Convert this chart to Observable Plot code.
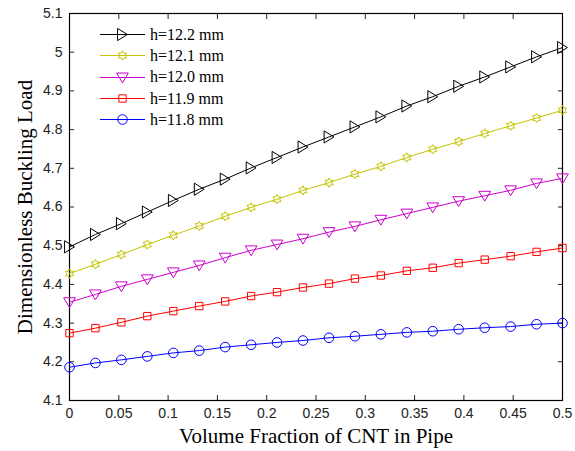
<!DOCTYPE html>
<html><head><meta charset="utf-8">
<script src="https://cdn.jsdelivr.net/npm/d3@7"></script>
<script src="https://cdn.jsdelivr.net/npm/@observablehq/plot@0.6"></script>
<style>
body{margin:0;background:#fff}
#wrap{position:relative;width:575px;height:451px}
#legend{position:absolute;left:100px;top:24px;font-family:"Liberation Serif","Times New Roman",serif;font-size:16px;color:#000}
.row{display:flex;align-items:center;height:21.3px;white-space:nowrap}
.row svg{display:block;overflow:visible}
.row span{margin-left:5px}
</style></head><body><div id="wrap"><div id="legend"></div></div>
<script>
// ---- data ----
const volumeFraction = [0, 0.0263, 0.0526, 0.0789, 0.1053, 0.1316, 0.1579, 0.1842, 0.2105, 0.2368,
  0.2632, 0.2895, 0.3158, 0.3421, 0.3684, 0.3947, 0.4211, 0.4474, 0.4737, 0.5];
const h122 = [4.497, 4.529, 4.557, 4.587, 4.617, 4.646, 4.672, 4.701, 4.728, 4.755,
  4.781, 4.807, 4.833, 4.861, 4.885, 4.912, 4.936, 4.962, 4.988, 5.012];
const h121 = [4.428, 4.452, 4.477, 4.503, 4.527, 4.551, 4.576, 4.599, 4.620, 4.643,
  4.663, 4.685, 4.705, 4.728, 4.749, 4.769, 4.790, 4.810, 4.830, 4.850];
const h120 = [4.354, 4.374, 4.395, 4.413, 4.431, 4.449, 4.469, 4.488, 4.503, 4.518,
  4.535, 4.550, 4.567, 4.583, 4.599, 4.615, 4.629, 4.643, 4.661, 4.674];
const h119 = [4.274, 4.287, 4.302, 4.318, 4.331, 4.344, 4.356, 4.370, 4.380, 4.392,
  4.402, 4.415, 4.423, 4.435, 4.443, 4.455, 4.464, 4.473, 4.484, 4.494];
const h118 = [4.186, 4.197, 4.205, 4.214, 4.223, 4.229, 4.238, 4.244, 4.250, 4.255,
  4.262, 4.266, 4.271, 4.276, 4.279, 4.284, 4.288, 4.291, 4.297, 4.300];
const seriesNames = ["h=12.2 mm", "h=12.1 mm", "h=12.0 mm", "h=11.9 mm", "h=11.8 mm"];
const xTicks = [0, 0.05, 0.1, 0.15, 0.2, 0.25, 0.3, 0.35, 0.4, 0.45, 0.5];
const xTickLabels = ["0", "0.05", "0.1", "0.15", "0.2", "0.25", "0.3", "0.35", "0.4", "0.45", "0.5"];
const yTicks = [4.1, 4.2, 4.3, 4.4, 4.5, 4.6, 4.7, 4.8, 4.9, 5, 5.1];
const yTickLabels = ["4.1", "4.2", "4.3", "4.4", "4.5", "4.6", "4.7", "4.8", "4.9", "5", "5.1"];
const xTitle = "Volume Fraction of CNT in Pipe";
const yTitle = "Dimensionless Buckling Load";

// ---- marker shapes (MATLAB-like) ----
const rad = size => Math.sqrt(size / Math.PI);
const triRight = {draw(c, s) { const R = rad(s); c.moveTo(R * 0.85, 0); c.lineTo(-R * 0.85, -R * 1.05); c.lineTo(-R * 0.85, R * 1.05); c.closePath(); }};
const triDown = {draw(c, s) { const R = rad(s); c.moveTo(-R * 1.05, -R * 0.8); c.lineTo(R * 1.05, -R * 0.8); c.lineTo(0, R * 0.95); c.closePath(); }};
const hexagram = {draw(c, s) {
  const R = rad(s), r = R / Math.sqrt(3);
  for (let k = 0; k < 12; k++) {
    const a = -Math.PI / 2 + k * Math.PI / 6, q = k % 2 ? r : R;
    k ? c.lineTo(q * Math.cos(a), q * Math.sin(a)) : c.moveTo(q * Math.cos(a), q * Math.sin(a));
  }
  c.closePath();
}};
const square = {draw(c, s) { const R = rad(s) * 0.78; c.rect(-R, -R, 2 * R, 2 * R); }};
const circle = {draw(c, s) { const R = rad(s); c.moveTo(R, 0); c.arc(0, 0, R, 0, 2 * Math.PI); }};

const seriesValues = [h122, h121, h120, h119, h118];
const colors = ["#000000", "#c4c400", "#cc00cc", "#ff0000", "#0000ff"];
const symbols = [triRight, hexagram, triDown, square, circle];
const radii = [5.8, 4.7, 5.6, 4.7, 4.8];

const series = seriesNames.map((name, k) => ({
  name, color: colors[k], symbol: symbols[k], r: radii[k],
  data: volumeFraction.map((x, i) => ({x, y: seriesValues[k][i]}))
}));

const marks = [
  Plot.axisX({anchor: "bottom", ticks: xTicks, tickFormat: d => xTickLabels[xTicks.indexOf(d)], tickSize: -5, tickPadding: 13, label: null}),
  Plot.axisX({anchor: "top", ticks: xTicks, tickFormat: () => "", tickSize: -5, label: null}),
  Plot.axisY({anchor: "left", ticks: yTicks, tickFormat: d => yTickLabels[yTicks.indexOf(d)], tickSize: -5, tickPadding: 12, label: null}),
  Plot.axisY({anchor: "right", ticks: yTicks, tickFormat: () => "", tickSize: -5, label: null}),
  Plot.frame({stroke: "#000", strokeWidth: 1.2})
];
for (const s of series) {
  marks.push(Plot.line(s.data, {x: "x", y: "y", stroke: s.color, strokeWidth: 1}));
  marks.push(Plot.dot(s.data, {x: "x", y: "y", stroke: s.color, fill: "none", strokeWidth: 1, symbol: s.symbol, r: s.r}));
}
marks.push(Plot.text([xTitle], {text: d => d, frameAnchor: "bottom", dy: 36, lineAnchor: "middle", textAnchor: "middle", fontFamily: "Liberation Serif, Times New Roman, serif", fontSize: 21, fill: "#000"}));
marks.push(Plot.text([yTitle], {text: d => d, frameAnchor: "left", rotate: -90, dx: -44, lineAnchor: "middle", textAnchor: "middle", fontFamily: "Liberation Serif, Times New Roman, serif", fontSize: 21, fill: "#000"}));

const chart = Plot.plot({
  width: 575, height: 451,
  marginLeft: 69, marginRight: 13, marginTop: 13, marginBottom: 51,
  x: {domain: [0, 0.5]},
  y: {domain: [4.1, 5.1]},
  style: {fontFamily: "Liberation Sans, Arial, sans-serif", fontSize: "14px", color: "#222", background: "#fff", overflow: "visible"},
  marks
});
document.getElementById("wrap").prepend(chart);

// ---- legend ----
const legend = d3.select("#legend");
for (const s of series) {
  const row = legend.append("div").attr("class", "row");
  const svg = row.append("svg").attr("width", 45).attr("height", 21);
  svg.append("line").attr("x1", 0).attr("x2", 45).attr("y1", 10.5).attr("y2", 10.5).attr("stroke", s.color).attr("stroke-width", 1);
  const p = d3.path(); s.symbol.draw(p, Math.PI * s.r * s.r);
  svg.append("path").attr("d", p.toString()).attr("transform", "translate(22.5,10.5)").attr("fill", "none").attr("stroke", s.color).attr("stroke-width", 1);
  row.append("span").text(s.name);
}
</script>
</body></html>
